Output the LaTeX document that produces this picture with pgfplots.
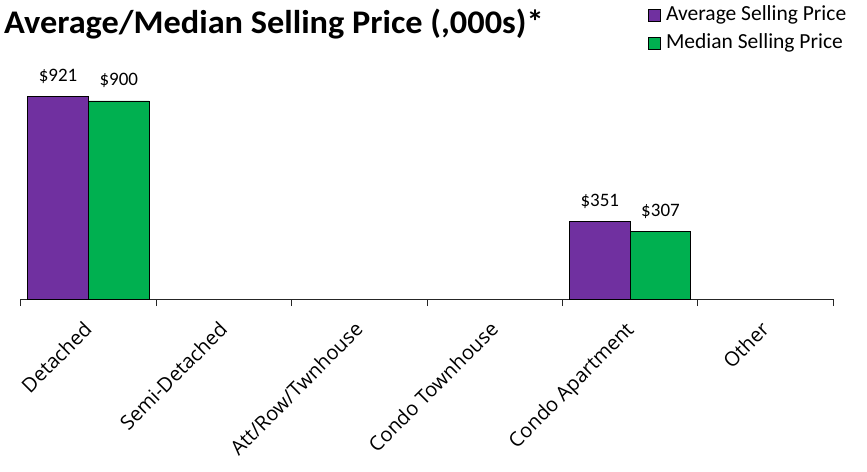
\documentclass[border=0pt]{standalone}
\usepackage{fontspec}
\setmainfont{Carlito}
\newfontfamily\osans{Open Sans}
\usepackage{pgfplots}
\pgfplotsset{compat=1.18}
\definecolor{avgP}{HTML}{7030A0}
\definecolor{medG}{HTML}{00B050}
\begin{document}
\begin{tikzpicture}
\begin{axis}[
 scale only axis, width=812.6pt, height=220pt,
 xmin=-0.5, xmax=5.5, ymin=0, ymax=1000,
 axis y line=none, axis x line*=bottom,
 x axis line style={black!85, line width=0.9pt, -},
 ybar=0pt, bar width=60.7pt,
 xtick={0,...,5},
 xticklabels={Detached,Semi-Detached,Att/Row/Twnhouse,Condo Townhouse,Condo Apartment,Other},
 major tick length=0pt,
 x tick label style={font=\osans\fontsize{20}{24}\selectfont, xshift=-6pt, yshift=-21pt, rotate=45, anchor=north east, inner sep=0pt},
 extra x ticks={-0.5,0.5,1.5,2.5,3.5,4.5,5.5},
 extra x tick labels={},
 extra x tick style={major tick length=7pt, tick align=outside, tick style={black!85, line width=0.9pt}},
 clip=false,
 /pgf/number format/assume math mode=true,
 nodes near coords={\$\pgfmathprintnumber{\pgfplotspointmeta}},
 nodes near coords style={font=\fontsize{19}{21}\selectfont, anchor=base, inner sep=0pt, yshift=15pt, black},
 legend style={at={(0.7684,1.345)}, anchor=north west, draw=none, fill=none, font=\fontsize{21.5}{25}\selectfont, legend cell align=left, row sep=8pt, nodes={inner sep=1pt, text height=14pt, text depth=4pt}, /tikz/every odd column/.append style={column sep=4pt}},
 legend image code/.code={\draw[#1, draw=black, line width=0.8pt] (0pt,-6pt) rectangle (12pt,6pt);},
]
\addplot[fill=avgP, draw=black, line width=0.8pt] coordinates {(0,921) (4,351)};
\addplot[fill=medG, draw=black, line width=0.8pt] coordinates {(0,900) (4,307)};
\legend{Average Selling Price, Median Selling Price}
\end{axis}
\node[anchor=base west, inner sep=0pt, font=\bfseries\fontsize{33}{38}\selectfont] at (-16.7pt,265.7pt) {\scalebox{1.04}[1]{Average/Median Selling Price (,000s)*}};
\pgfresetboundingbox
\useasboundingbox (-20.7pt,-172pt) rectangle (846.3pt,299pt);
\end{tikzpicture}
\end{document}
